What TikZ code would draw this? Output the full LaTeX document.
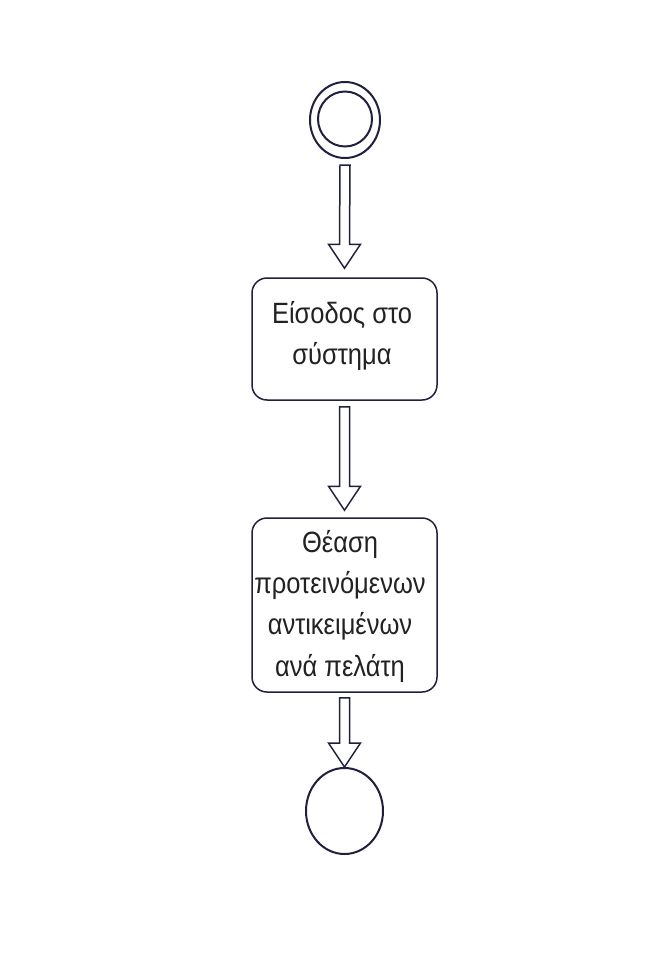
\documentclass[tikz,border=0pt]{standalone}
\usepackage{fontspec}
\setmainfont{Liberation Sans}
\usetikzlibrary{shapes.geometric,calc}
\definecolor{ink}{RGB}{32,32,62}
\definecolor{txt}{RGB}{34,34,34}

% hollow block arrow: #1 = top of the shaft, #2 = tip
\newcommand\blockarrow[2]{%
  \draw[arrowline]
    ($(#1)+(-5,0)$) -- ($(#2)+(-5,-24)$) -- ($(#2)+(-16,-24)$) -- (#2)
    -- ($(#2)+(16,-24)$) -- ($(#2)+(5,-24)$) -- ($(#1)+(5,0)$) -- cycle;}
% label text, set a little taller than wide
\newcommand\boxtext[1]{%
  \scalebox{1}[1.15]{\begin{tabular}{@{}c@{}}#1\end{tabular}}}

\begin{document}
\begin{tikzpicture}[x=1pt,y=-1pt,
  arrowline/.style={draw=ink,line width=1.5pt,line join=miter,fill=white},
  actbox/.style={draw=ink,line width=1.5pt,rectangle,rounded corners=15pt,
    minimum width=185pt,inner sep=0pt},
  boxlabel/.style={text=txt,inner sep=0pt,font=\fontsize{25.5}{36}\selectfont},
  statering/.style={draw=ink,line width=2pt,ellipse,inner sep=0pt}]
  \useasboundingbox[fill=white] (0,0) rectangle (668,963);

  % start state
  \node[statering,minimum width=70pt,minimum height=76pt] (start) at (345,120) {};
  \node[statering,minimum width=54pt,minimum height=55pt] (startin) at (345,119) {};

  % activities
  \node[actbox,minimum height=122pt] (login) at (344.5,339) {};
  \node[boxlabel] (logintext) at (342,336) {\boxtext{Είσοδος στο\\σύστημα}};
  \node[actbox,minimum height=174pt] (view) at (344.5,605) {};
  \node[boxlabel] (viewtext) at (340,606)
    {\boxtext{Θέαση\\προτεινόμενων\\αντικειμένων\\ανά πελάτη}};

  % end state
  \node[statering,minimum width=77pt,minimum height=86pt] (end) at (344.5,811) {};

  % flows
  \coordinate (a1s) at ($(start.south)+(0,6)$);
  \coordinate (a1e) at ($(login.north)+(0,-9)$);
  \coordinate (a2s) at ($(login.south)+(0,6)$);
  \coordinate (a2e) at ($(view.north)+(0,-7)$);
  \coordinate (a3s) at ($(view.south)+(0,5)$);
  \coordinate (a3e) at (end.north);
  \blockarrow{a1s}{a1e}
  \blockarrow{a2s}{a2e}
  \blockarrow{a3s}{a3e}
\end{tikzpicture}
\end{document}
